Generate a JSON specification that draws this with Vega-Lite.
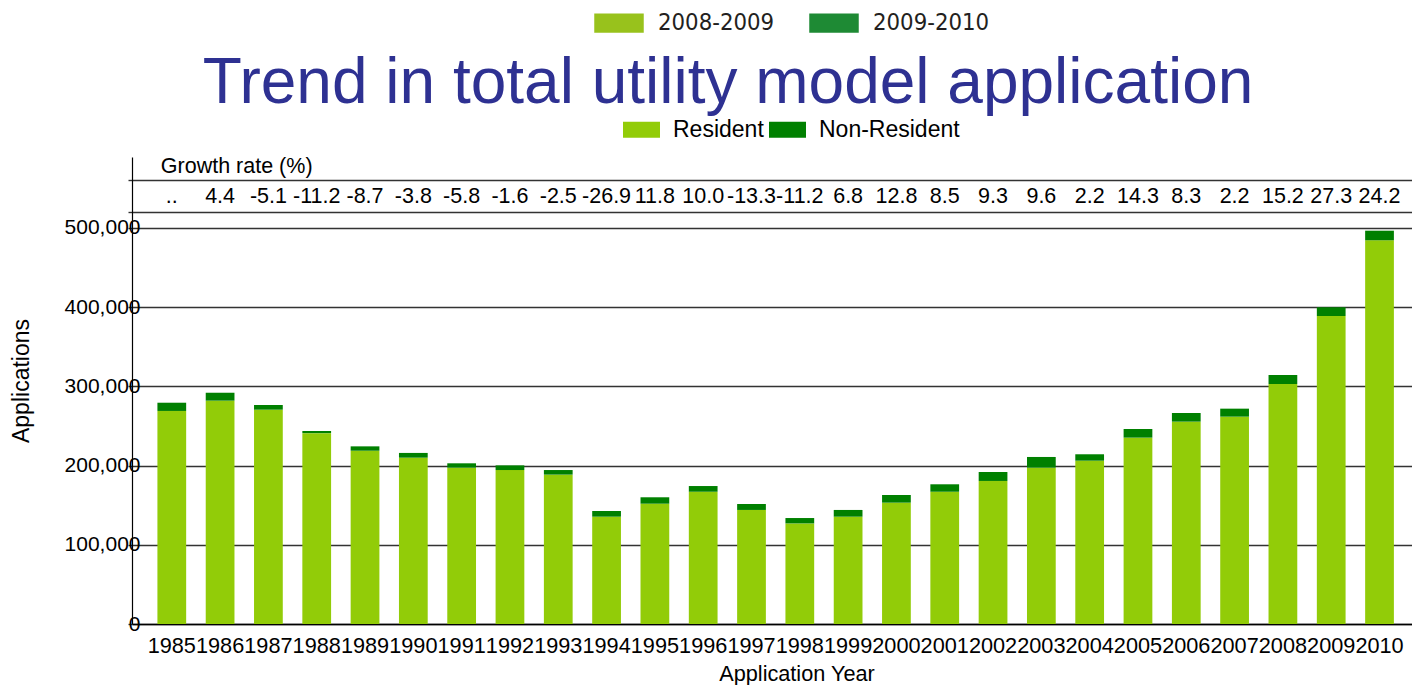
{
  "$schema": "https://vega.github.io/schema/vega-lite/v6.json",
  "width": 1280,
  "height": 467,
  "autosize": {"type": "none"},
  "padding": {"left": 132, "top": 157, "right": 0, "bottom": 61},
  "background": "white",
  "title": {
    "text": "Trend in total utility model application",
    "font": "Liberation Sans",
    "fontSize": 64,
    "fontWeight": "normal",
    "color": "#2e3192",
    "anchor": "middle",
    "frame": "group",
    "dx": -44,
    "offset": -118
  },
  "datasets": {
    "bars": [
      {"year": "1985", "type": "Resident", "val": 269000}, {"year": "1985", "type": "Non-Resident", "val": 10400},
      {"year": "1986", "type": "Resident", "val": 282000}, {"year": "1986", "type": "Non-Resident", "val": 10000},
      {"year": "1987", "type": "Resident", "val": 270600}, {"year": "1987", "type": "Non-Resident", "val": 5900},
      {"year": "1988", "type": "Resident", "val": 241000}, {"year": "1988", "type": "Non-Resident", "val": 2700},
      {"year": "1989", "type": "Resident", "val": 218800}, {"year": "1989", "type": "Non-Resident", "val": 5500},
      {"year": "1990", "type": "Resident", "val": 210000}, {"year": "1990", "type": "Non-Resident", "val": 6000},
      {"year": "1991", "type": "Resident", "val": 197400}, {"year": "1991", "type": "Non-Resident", "val": 5500},
      {"year": "1992", "type": "Resident", "val": 194400}, {"year": "1992", "type": "Non-Resident", "val": 5900},
      {"year": "1993", "type": "Resident", "val": 188600}, {"year": "1993", "type": "Non-Resident", "val": 5800},
      {"year": "1994", "type": "Resident", "val": 135500}, {"year": "1994", "type": "Non-Resident", "val": 7200},
      {"year": "1995", "type": "Resident", "val": 151900}, {"year": "1995", "type": "Non-Resident", "val": 8100},
      {"year": "1996", "type": "Resident", "val": 167000}, {"year": "1996", "type": "Non-Resident", "val": 7200},
      {"year": "1997", "type": "Resident", "val": 144000}, {"year": "1997", "type": "Non-Resident", "val": 7500},
      {"year": "1998", "type": "Resident", "val": 127000}, {"year": "1998", "type": "Non-Resident", "val": 6800},
      {"year": "1999", "type": "Resident", "val": 135500}, {"year": "1999", "type": "Non-Resident", "val": 8500},
      {"year": "2000", "type": "Resident", "val": 153200}, {"year": "2000", "type": "Non-Resident", "val": 9700},
      {"year": "2001", "type": "Resident", "val": 167000}, {"year": "2001", "type": "Non-Resident", "val": 9400},
      {"year": "2002", "type": "Resident", "val": 180600}, {"year": "2002", "type": "Non-Resident", "val": 11300},
      {"year": "2003", "type": "Resident", "val": 197400}, {"year": "2003", "type": "Non-Resident", "val": 13500},
      {"year": "2004", "type": "Resident", "val": 206200}, {"year": "2004", "type": "Non-Resident", "val": 8100},
      {"year": "2005", "type": "Resident", "val": 235300}, {"year": "2005", "type": "Non-Resident", "val": 10900},
      {"year": "2006", "type": "Resident", "val": 255500}, {"year": "2006", "type": "Non-Resident", "val": 10900},
      {"year": "2007", "type": "Resident", "val": 261800}, {"year": "2007", "type": "Non-Resident", "val": 10100},
      {"year": "2008", "type": "Resident", "val": 303000}, {"year": "2008", "type": "Non-Resident", "val": 11400},
      {"year": "2009", "type": "Resident", "val": 388900}, {"year": "2009", "type": "Non-Resident", "val": 11000},
      {"year": "2010", "type": "Resident", "val": 484500}, {"year": "2010", "type": "Non-Resident", "val": 12100}
    ],
    "growth": [
      {"year": "1985", "g": ".."}, {"year": "1986", "g": "4.4"}, {"year": "1987", "g": "-5.1"},
      {"year": "1988", "g": "-11.2"}, {"year": "1989", "g": "-8.7"}, {"year": "1990", "g": "-3.8"},
      {"year": "1991", "g": "-5.8"}, {"year": "1992", "g": "-1.6"}, {"year": "1993", "g": "-2.5"},
      {"year": "1994", "g": "-26.9"}, {"year": "1995", "g": "11.8"}, {"year": "1996", "g": "10.0"},
      {"year": "1997", "g": "-13.3"}, {"year": "1998", "g": "-11.2"}, {"year": "1999", "g": "6.8"},
      {"year": "2000", "g": "12.8"}, {"year": "2001", "g": "8.5"}, {"year": "2002", "g": "9.3"},
      {"year": "2003", "g": "9.6"}, {"year": "2004", "g": "2.2"}, {"year": "2005", "g": "14.3"},
      {"year": "2006", "g": "8.3"}, {"year": "2007", "g": "2.2"}, {"year": "2008", "g": "15.2"},
      {"year": "2009", "g": "27.3"}, {"year": "2010", "g": "24.2"}
    ],
    "header": [{"year": "1985", "label": "Growth rate (%)"}],
    "periods": [{"period": "2008-2009"}, {"period": "2009-2010"}]
  },
  "config": {
    "view": {"stroke": null},
    "font": "Liberation Sans",
    "axis": {"labelFont": "Liberation Sans", "titleFont": "Liberation Sans", "labelColor": "#000", "titleColor": "#000", "titleFontWeight": "normal"},
    "legend": {"labelFont": "Liberation Sans"}
  },
  "layer": [
    {
      "data": {"name": "bars"},
      "mark": {"type": "bar"},
      "encoding": {
        "x": {
          "field": "year",
          "type": "nominal",
          "sort": null,
          "scale": {"paddingInner": 0.405, "paddingOuter": 0.4505, "align": 0.584},
          "axis": {
            "title": "Application Year",
            "labelAngle": 0,
            "labelFontSize": 21.7,
            "labelPadding": 11.6,
            "labelOverlap": false,
            "labelBound": false,
            "ticks": false,
            "grid": false,
            "domain": true,
            "domainColor": "#000",
            "domainWidth": 1.5,
            "titleFontSize": 21.7,
            "titlePadding": 6,
            "titleX": 664.5,
            "titleAlign": "center"
          }
        },
        "y": {
          "field": "val",
          "type": "quantitative",
          "stack": "zero",
          "scale": {"domain": [0, 589646], "nice": false, "zero": true},
          "axis": {
            "title": "Applications",
            "values": [0, 100000, 200000, 300000, 400000, 500000, 520202, 560606],
            "labelExpr": "datum.value > 500000 ? '' : format(datum.value, ',')",
            "labelFontSize": 21,
            "labelPadding": -12,
            "labelAlign": "right",
            "labelBaseline": "middle",
            "ticks": true,
            "tickSize": 4,
            "tickColor": "#333",
            "tickWidth": 1.4,
            "grid": true,
            "gridColor": "#333",
            "gridWidth": 1.4,
            "domainColor": "#000",
            "domainWidth": 1.2,
            "titleFontSize": 23,
            "titleAngle": 270,
            "titleX": -110.5,
            "titleY": 223.5,
            "titleAlign": "center",
            "titleBaseline": "middle"
          }
        },
        "color": {
          "field": "type",
          "type": "nominal",
          "scale": {"domain": ["Resident", "Non-Resident"], "range": ["#92cc08", "#008000"]},
          "legend": {
            "orient": "none",
            "legendX": 491,
            "legendY": -46,
            "direction": "horizontal",
            "title": null,
            "padding": 0,
            "symbolType": "M-1,-0.432L1,-0.432L1,0.432L-1,0.432Z",
            "symbolSize": 1369,
            "symbolStrokeWidth": 0,
            "labelFontSize": 23,
            "labelColor": "#000",
            "labelOffset": 13,
            "columnPadding": 5
          }
        },
        "order": {"field": "type", "sort": "descending"}
      }
    },
    {
      "data": {"name": "growth"},
      "mark": {"type": "text", "fontSize": 21.5, "color": "#000", "align": "center", "baseline": "middle"},
      "encoding": {
        "x": {"field": "year", "type": "nominal", "sort": null},
        "y": {"datum": 538510},
        "text": {"field": "g"}
      }
    },
    {
      "data": {"name": "header"},
      "mark": {"type": "text", "fontSize": 21.5, "color": "#000", "align": "left", "baseline": "middle", "dx": 3.4},
      "encoding": {
        "x": {"field": "year", "type": "nominal", "sort": null, "bandPosition": 0},
        "y": {"datum": 577273},
        "text": {"field": "label"}
      }
    },
    {
      "data": {"name": "periods"},
      "mark": {"type": "point", "filled": true, "opacity": 0},
      "encoding": {
        "fill": {
          "field": "period",
          "type": "nominal",
          "scale": {"domain": ["2008-2009", "2009-2010"], "range": ["#98c21c", "#1e8a34"]},
          "legend": {
            "orient": "none",
            "legendX": 462,
            "legendY": -159,
            "direction": "horizontal",
            "title": null,
            "padding": 0,
            "symbolType": "M-1,-0.388L1,-0.388L1,0.388L-1,0.388Z",
            "symbolSize": 2450,
            "symbolOpacity": 1,
            "symbolStrokeWidth": 0,
            "labelFont": "DejaVu Sans Condensed",
            "labelFontSize": 23.7,
            "labelColor": "#231f20",
            "labelOffset": 14,
            "columnPadding": 34
          }
        }
      }
    }
  ]
}
